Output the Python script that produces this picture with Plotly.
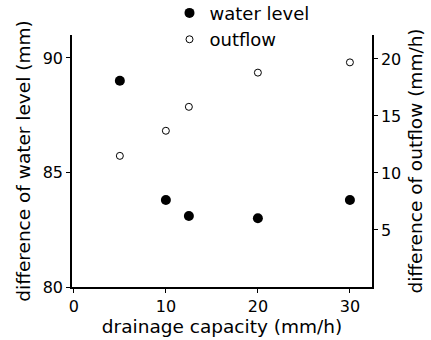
import plotly.graph_objects as go

capacity = [5, 10, 12.5, 20, 30]
water_level = [89.0, 83.8, 83.1, 83.0, 83.8]
outflow = [11.5, 13.7, 15.8, 18.8, 19.7]

FONT = "DejaVu Sans"
fig = go.Figure()
fig.add_trace(go.Scatter(
    x=capacity, y=water_level, mode="markers", name="water level",
    marker=dict(symbol="circle", size=10, color="black"),
    legendgroup="a", yaxis="y"))
fig.add_trace(go.Scatter(
    x=capacity, y=outflow, mode="markers", name="outflow",
    marker=dict(symbol="circle-open", size=7, color="black", line=dict(width=1)),
    legendgroup="b", yaxis="y2"))

axcommon = dict(showgrid=False, zeroline=False, showline=True, linecolor="black",
                linewidth=1.5, ticks="outside", ticklen=4, tickcolor="black",
                tickfont=dict(size=16, color="black", family=FONT))

fig.update_layout(
    width=431, height=340,
    margin=dict(l=72, r=59, t=35, b=53, autoexpand=False),
    paper_bgcolor="white", plot_bgcolor="white",
    font=dict(family=FONT, color="black"),
    xaxis=dict(range=[-0.2, 32.4], tickvals=[0, 10, 20, 30],
               title=dict(text="drainage capacity (mm/h)", font=dict(size=18.5), standoff=1),
               **axcommon),
    yaxis=dict(range=[80, 91], tickvals=[80, 85, 90],
               title=dict(text="difference of water level (mm)", font=dict(size=18.5), standoff=7),
               **axcommon),
    yaxis2=dict(range=[0, 22.1], tickvals=[5, 10, 15, 20], overlaying="y", side="right",
                title=dict(text="difference of outflow (mm/h)", font=dict(size=18.5), standoff=9),
                **axcommon),
    legend=dict(x=0.325, y=1.16, xanchor="left", yanchor="top", bgcolor="rgba(0,0,0,0)",
                font=dict(size=18, family=FONT), tracegroupgap=0, traceorder="grouped",
                itemwidth=30),
    showlegend=True,
)
fig.write_html("out.html", config={"displayModeBar": False},
               post_script="document.body.style.margin='0';document.body.style.padding='0';")
